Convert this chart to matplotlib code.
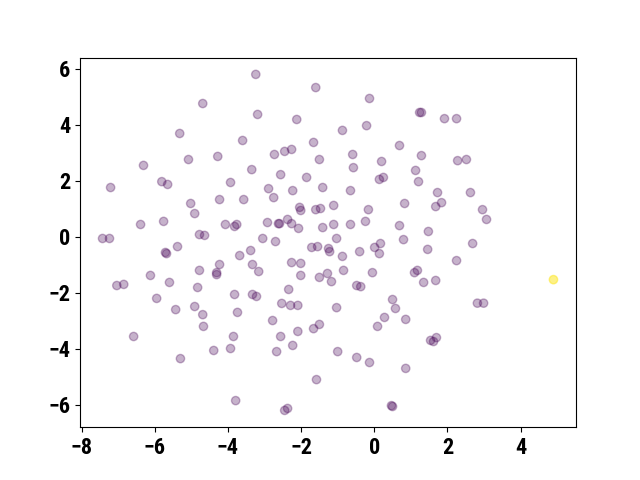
import numpy as np
import matplotlib
matplotlib.use("Agg")
import matplotlib.pyplot as plt
from matplotlib import font_manager

# main group (class 0)
x_main = [
    -3.24, -1.60, -4.69, -3.19, -2.12, -0.13, 1.24, 1.29, 1.92, 2.25,
    -5.32, -3.60, -0.87, -0.21, -1.66, 0.69, -5.08, -6.31, -4.28, -2.73,
    -2.45, -2.26, -1.50, -3.35, -0.59, -0.57, 0.20, 1.29, 1.13, 2.28,
    2.52, -2.56, -1.85, 0.14, 0.25, 1.21, -5.81, -5.65, -7.21, -3.93,
    -5.02, -4.91, -6.39, -5.76, -7.43, -7.24, -4.78, -4.64, -5.71, -5.68,
    -5.38, -4.78, -6.12, -5.60, -7.04, -6.85, -4.83, -5.95, -2.89, -2.75,
    -2.23, -1.41, -4.23, -3.57, -2.04, -2.01, -1.60, -1.47, -4.07, -3.82,
    -3.76, -2.92, -2.62, -2.59, -2.37, -2.26, -2.07, -1.41, -3.05, -2.70,
    -1.71, -1.55, -3.38, -3.68, -3.33, -3.16, -4.23, -4.31, -4.31, -2.26,
    -2.01, -2.01, -1.50, -2.34, -3.82, -3.33, -3.22, -0.65, 1.73, 0.83,
    1.68, 1.84, -1.11, -0.16, -1.11, -0.65, -0.24, 0.69, 1.48, 0.80,
    -1.03, -1.25, -1.22, 0.01, 0.17, 0.14, -0.40, -0.87, 1.46, -1.28,
    -1.17, -0.84, -0.05, 1.10, 1.18, 1.35, 1.68, -0.48, -0.37, 0.50,
    2.63, 2.96, 3.07, 2.69, 2.25, 2.82, 2.99, -5.43, -4.91, -4.69,
    -4.67, -6.58, -5.30, -2.53, -2.29, -2.09, -3.74, -2.78, -3.85, -2.56,
    -2.09, -1.66, -1.50, -4.39, -3.93, -2.67, -2.23, -1.58, -3.79, -2.45,
    -2.37, -1.03, 0.58, 0.28, 0.09, 0.86, 1.54, 1.62, 1.70, -1.00,
    -0.48, -0.13, 0.86, 0.47, 0.50,
]
y_main = [
    5.79, 5.32, 4.75, 4.36, 4.18, 4.93, 4.43, 4.43, 4.21, 4.21,
    3.68, 3.43, 3.79, 3.96, 3.36, 3.25, 2.75, 2.54, 2.86, 2.93,
    3.04, 3.11, 2.75, 2.39, 2.93, 2.46, 2.68, 2.89, 2.36, 2.71,
    2.75, 2.21, 2.11, 2.04, 2.11, 1.96, 1.96, 1.86, 1.75, 1.93,
    1.18, 0.82, 0.43, 0.54, -0.07, -0.07, 0.07, 0.04, -0.57, -0.61,
    -0.36, -1.21, -1.39, -1.64, -1.75, -1.71, -1.82, -2.21, 1.71, 1.39,
    1.64, 1.75, 1.32, 1.32, 1.04, 0.93, 0.96, 1.00, 0.43, 0.36,
    0.43, 0.50, 0.46, 0.46, 0.61, 0.46, 0.29, 0.32, -0.07, -0.18,
    -0.39, -0.36, -0.50, -0.68, -1.00, -1.25, -1.00, -1.29, -1.36, -0.93,
    -0.96, -1.39, -1.46, -1.89, -2.07, -2.07, -2.14, 1.64, 1.57, 1.18,
    1.07, 1.21, 1.11, 0.96, 0.43, 0.43, 0.54, 0.39, 0.18, -0.11,
    -0.07, -0.43, -0.54, -0.39, -0.25, -0.61, -0.54, -0.71, -0.46, -1.32,
    -1.61, -1.21, -1.29, -1.29, -1.21, -1.64, -1.57, -1.75, -1.79, -2.25,
    1.57, 0.96, 0.61, -0.25, -0.86, -2.38, -2.38, -2.61, -2.50, -2.79,
    -3.21, -3.57, -4.36, -2.39, -2.46, -2.46, -2.71, -3.00, -3.57, -3.57,
    -3.39, -3.29, -3.14, -4.07, -4.00, -4.11, -3.89, -5.11, -5.86, -6.21,
    -6.14, -2.54, -2.57, -2.89, -3.21, -2.96, -3.71, -3.75, -3.61, -4.11,
    -4.32, -4.50, -4.71, -6.04, -6.07,
]

# single outlier (class 1)
x_out = [4.90]
y_out = [-1.54]

x = np.array(x_main + x_out)
y = np.array(y_main + y_out)
labels = np.r_[np.zeros(len(x_main)), np.ones(len(x_out))]

# pick a narrow bold face if one is installed
names = {f.name for f in font_manager.fontManager.ttflist}
narrow = [n for n in ['Liberation Sans Narrow', 'DejaVu Sans Condensed', 'Roboto Condensed', 'Roboto'] if n in names]
plt.rcParams['font.family'] = narrow[:1] + ['DejaVu Sans']
plt.rcParams['font.stretch'] = 'condensed'
plt.rcParams['font.weight'] = 'bold'
plt.rcParams['font.size'] = 16

fig, ax = plt.subplots(figsize=(6.4, 4.8), dpi=100)
sc = ax.scatter(x, y, c=labels, cmap='viridis', alpha=0.3)
# the lone outlier shows up stronger in the reference
alphas = np.where(labels > 0, 0.55, 0.3)
sc.set_alpha(alphas)

fig.savefig('out.png')
